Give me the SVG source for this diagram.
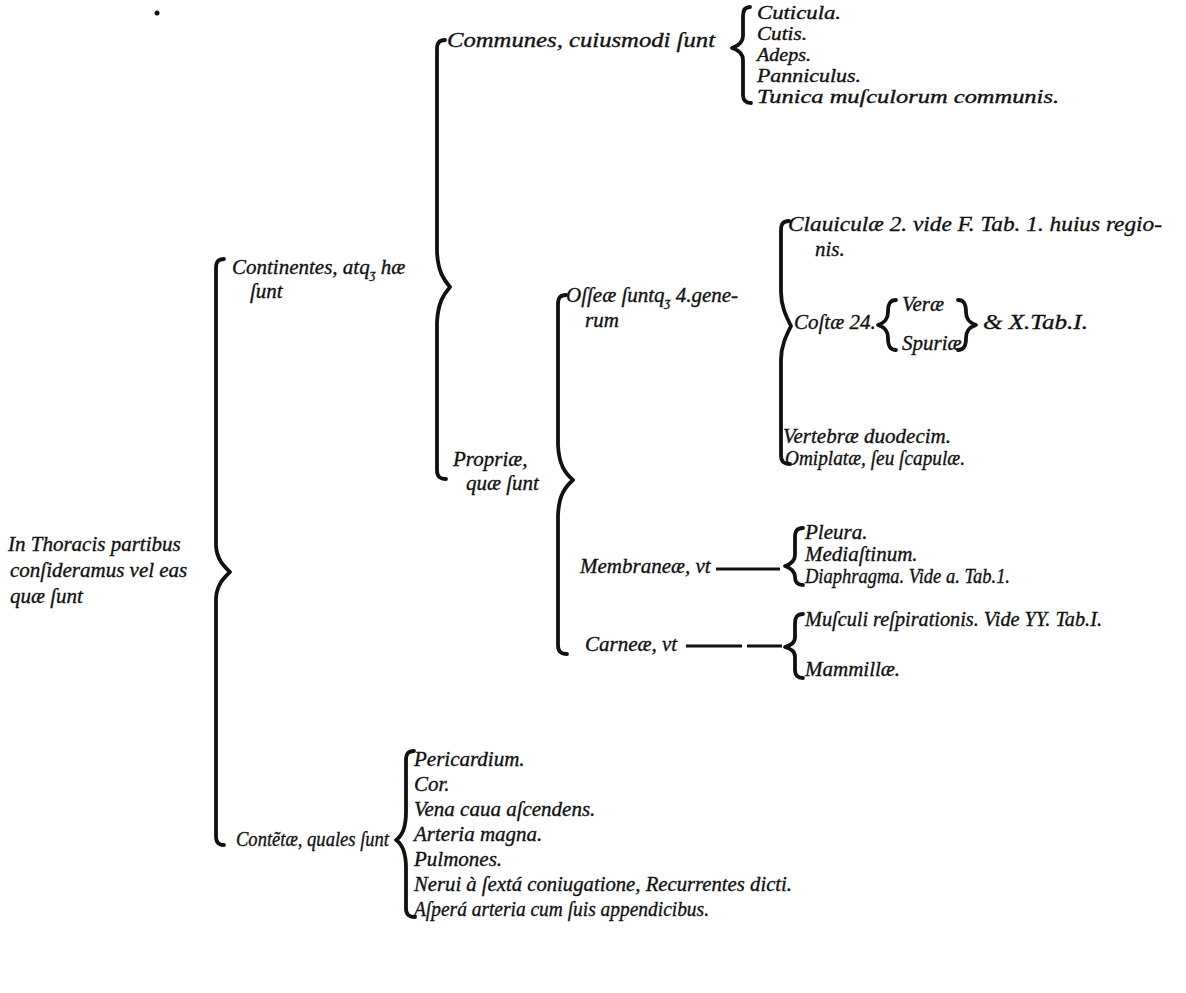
<svg xmlns="http://www.w3.org/2000/svg" width="1186" height="993" viewBox="0 0 1186 993">
<style>
.t{font-family:"Liberation Serif","DejaVu Serif",serif;font-style:italic;font-size:21px;fill:#111;stroke:#111;stroke-width:0.35}
.s{font-size:18px}
.b{fill:none;stroke:#111;stroke-width:3.8;stroke-linecap:round;stroke-linejoin:round}
.l{fill:none;stroke:#111;stroke-width:3}
</style>
<rect width="1186" height="993" fill="#fff"/>
<circle cx="157" cy="13" r="2.5" fill="#111"/>
<g id="connectors">
<path class="b" d="M224,259 C218,259 216,262 216,268 L216,546 C217,560 224,566 230,572 C224,578 217,584 216,598 L216,836 C216,842 218,845 224,845"/>
<path class="b" d="M445,40 C439,40 437,43 437,49 L437,252 C438,272 444,280 450,287 C444,294 438,302 437,322 L437,470 C437,476 439,479 446,479"/>
<path class="b" d="M750,7 C745,7 743,10 743,16 L743,36 C743,42 738,46 732,48 C738,50 743,54 743,60 L743,95 C743,100 745,103 751,103"/>
<path class="b" d="M566,295 C560,295 558,298 558,304 L558,445 C559,465 565,473 573,480 C565,487 559,495 558,515 L558,645 C558,651 560,654 567,654"/>
<path class="b" d="M789,221 C783,221 781,224 781,230 L781,292 C781,306 786,316 791,326 C786,336 781,346 781,360 L781,455 C781,461 783,464 790,464"/>
<path class="b" d="M896,300 C890,300 888,304 888,312 C888,320 884,323 878,325 C884,327 888,330 888,338 C888,346 890,350 896,350"/>
<path class="b" d="M958,300 C964,300 966,304 966,312 C966,320 970,323 976,325 C970,327 966,330 966,338 C966,346 964,350 958,350"/>
<path class="b" d="M803,528 C797,528 795,531 795,537 L795,555 C795,561 791,564 785,566 C791,568 795,571 795,577 C795,582 797,585 803,585"/>
<path class="b" d="M803,614 C797,614 795,617 795,624 L795,637 C795,643 791,645 785,647 C791,649 795,651 795,657 L795,670 C795,675 797,678 803,678"/>
<path class="b" d="M414,751 C408,751 406,754 406,760 L406,812 C406,828 402,836 396,840 C402,844 406,852 406,868 L406,908 C406,914 408,917 415,917"/>
<path class="l" d="M716,569 L780,569 M686,646 L742,646 M747,646 L782,646"/>
</g>
<g id="root"><text class="t" x="8" y="551">In Thoracis partibus</text><text class="t" x="10" y="577">conſideramus vel eas</text><text class="t" x="10" y="603">quæ ſunt</text></g>
<g id="continentes"><text class="t" x="232" y="274">Continentes, atq<tspan font-size="13" dy="4">ʒ</tspan><tspan dy="-4"> hæ</tspan></text><text class="t" x="250" y="298">ſunt</text></g>
<g id="communes"><text class="t" x="447" y="47" textLength="268" lengthAdjust="spacingAndGlyphs">Communes, cuiusmodi ſunt</text></g>
<g id="cuticula"><text class="t s" x="757" y="19" textLength="84" lengthAdjust="spacingAndGlyphs">Cuticula.</text></g>
<g id="cutis"><text class="t s" x="757" y="40" textLength="50" lengthAdjust="spacingAndGlyphs">Cutis.</text></g>
<g id="adeps"><text class="t s" x="757" y="61" textLength="54" lengthAdjust="spacingAndGlyphs">Adeps.</text></g>
<g id="panniculus"><text class="t s" x="757" y="82" textLength="104" lengthAdjust="spacingAndGlyphs">Panniculus.</text></g>
<g id="tunica"><text class="t s" x="757" y="103" textLength="302" lengthAdjust="spacingAndGlyphs">Tunica muſculorum communis.</text></g>
<g id="propriae"><text class="t" x="453" y="466">Propriæ,</text><text class="t" x="466" y="490">quæ ſunt</text></g>
<g id="osseae"><text class="t" x="566" y="302">Oſſeæ ſuntq<tspan font-size="13" dy="4">ʒ</tspan><tspan dy="-4"> 4.gene-</tspan></text><text class="t" x="585" y="327">rum</text></g>
<g id="clavicula"><text class="t" x="788" y="231" textLength="374" lengthAdjust="spacingAndGlyphs">Clauiculæ 2. vide F. Tab. 1. huius regio-</text><text class="t" x="815" y="256">nis.</text></g>
<g id="costae"><text class="t" x="794" y="329">Coſtæ 24.</text></g>
<g id="verae"><text class="t" x="902" y="311">Veræ</text></g>
<g id="spuriae"><text class="t" x="902" y="350">Spuriæ</text></g>
<g id="xtab"><text class="t" x="983" y="329" textLength="105" lengthAdjust="spacingAndGlyphs">&amp; X.Tab.I.</text></g>
<g id="vertebrae"><text class="t" x="783" y="443">Vertebræ duodecim.</text></g>
<g id="omiplatae"><text class="t" x="785" y="465" textLength="180" lengthAdjust="spacingAndGlyphs">Omiplatæ, ſeu ſcapulæ.</text></g>
<g id="membraneae"><text class="t" x="580" y="573">Membraneæ, vt</text></g>
<g id="pleura"><text class="t" x="805" y="539">Pleura.</text></g>
<g id="mediastinum"><text class="t" x="805" y="561">Mediaſtinum.</text></g>
<g id="diaphragma"><text class="t" x="805" y="583" textLength="205" lengthAdjust="spacingAndGlyphs">Diaphragma. Vide a. Tab.1.</text></g>
<g id="carneae"><text class="t" x="585" y="651">Carneæ, vt</text></g>
<g id="musculi"><text class="t" x="805" y="626" textLength="297" lengthAdjust="spacingAndGlyphs">Muſculi reſpirationis. Vide ΥΥ. Tab.I.</text></g>
<g id="mammillae"><text class="t" x="805" y="676">Mammillæ.</text></g>
<g id="contentae"><text class="t" x="236" y="846" textLength="153" lengthAdjust="spacingAndGlyphs">Contẽtæ, quales ſunt</text></g>
<g id="pericardium"><text class="t" x="414" y="766">Pericardium.</text></g>
<g id="cor"><text class="t" x="414" y="791">Cor.</text></g>
<g id="vena"><text class="t" x="414" y="816">Vena caua aſcendens.</text></g>
<g id="arteria"><text class="t" x="414" y="841">Arteria magna.</text></g>
<g id="pulmones"><text class="t" x="414" y="866">Pulmones.</text></g>
<g id="nerui"><text class="t" x="414" y="891" textLength="378" lengthAdjust="spacingAndGlyphs">Nerui à ſextá coniugatione, Recurrentes dicti.</text></g>
<g id="aspera"><text class="t" x="414" y="916" textLength="295" lengthAdjust="spacingAndGlyphs">Aſperá arteria cum ſuis appendicibus.</text></g>
</svg>
